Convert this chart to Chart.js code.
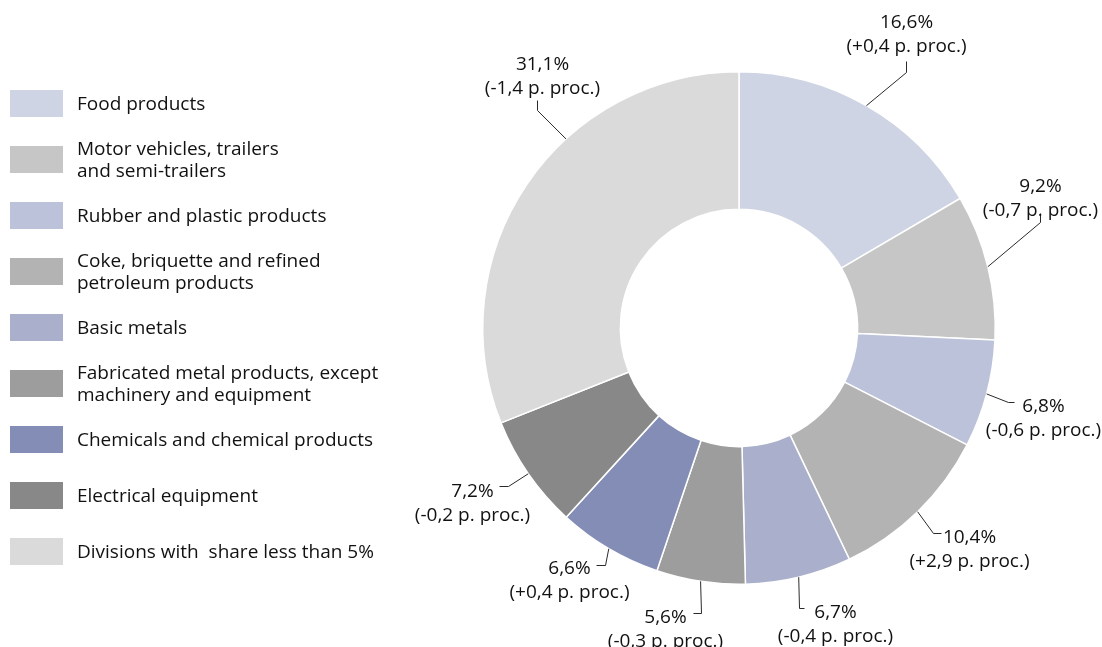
<!DOCTYPE html>
<html>
<head>
<meta charset="utf-8">
<title>Shares of manufacturing divisions</title>
<script src="https://cdn.jsdelivr.net/npm/chart.js@4.4.1/dist/chart.umd.min.js"></script>
<style>
  html, body { margin: 0; padding: 0; background: #fff; }
  #wrap { position: relative; width: 1102px; height: 647px; overflow: hidden; }
  #chart { position: absolute; left: 0; top: 0; }
  #legend { position: absolute; left: 10px; top: 75px; font-family: "Open Sans", sans-serif; font-size: 19px; color: #111; }
  .row { display: flex; align-items: center; height: 56px; }
  .swatch { width: 53px; height: 27px; margin-right: 14px; flex: none; }
  .txt { line-height: 22px; white-space: pre; }
</style>
</head>
<body>
<div id="wrap">
  <canvas id="chart" width="1102" height="647"></canvas>
  <div id="legend"></div>
</div>
<script>
// divisions, clockwise from 12 o'clock
const categories = [
  ['Food products'],
  ['Motor vehicles, trailers', 'and semi-trailers'],
  ['Rubber and plastic products'],
  ['Coke, briquette and refined', 'petroleum products'],
  ['Basic metals'],
  ['Fabricated metal products, except', 'machinery and equipment'],
  ['Chemicals and chemical products'],
  ['Electrical equipment'],
  ['Divisions with  share less than 5%']
];
// share in %, change vs previous year in percentage points
const shares  = [16.6, 9.2, 6.8, 10.4, 6.7, 5.6, 6.6, 7.2, 31.1];
const changes = [0.4, -0.7, -0.6, 2.9, -0.4, -0.3, 0.4, -0.2, -1.4];

const colors = ['#ced4e3', '#c6c6c6', '#bcc2d9', '#b3b3b3', '#aab0cb', '#9d9d9d', '#838db6', '#888888', '#dadada'];

// leader line shape per slice: start point on the rim (fraction of the arc),
// elbow offset, end offset, and text offset from the line end
const labelLayout = [
  { at: 0.5,  bend: [40, -34],  end: [0, -11], text: [0, -41] },
  { at: 0.5,  bend: [52, -45],  end: [0, -9],  text: [0, -29] },
  { at: 0.5,  bend: [21, 8],    end: [6, 0],   text: [29, 2] },
  { at: 0.5,  bend: [15, 21],   end: [8, 0],   text: [28, 2] },
  { at: 0.5,  bend: [0, 31],    end: [5, 0],   text: [31, 2] },
  { at: 0.5,  bend: [0, 32],    end: [-8, 0],  text: [-28, 2] },
  { at: 0.5,  bend: [-4, 16],   end: [-9, 0],  text: [-27, 1] },
  { at: 0.5,  bend: [-20, 12],  end: [-9, 0],  text: [-27, 3] },
  { at: 0.62, bend: [-29, -29], end: [0, -10], text: [5, -38] }
];

const FONT = '19px "Open Sans", sans-serif';
const LINE_GAP = 24;

function fmtShare(v) { return v.toFixed(1).replace('.', ',') + '%'; }
function fmtChange(v) { return '(' + (v > 0 ? '+' : '') + v.toFixed(1).replace('.', ',') + ' p. proc.)'; }

const leaderLabels = {
  id: 'leaderLabels',
  afterDatasetsDraw(chart) {
    const ctx = chart.ctx;
    const arcs = chart.getDatasetMeta(0).data;
    ctx.save();
    ctx.strokeStyle = '#2a2a2a';
    ctx.lineWidth = 1;
    ctx.fillStyle = '#111';
    ctx.font = FONT;
    ctx.textAlign = 'center';
    ctx.textBaseline = 'middle';
    arcs.forEach((arc, i) => {
      const p = arc.getProps(['x', 'y', 'startAngle', 'endAngle', 'outerRadius'], true);
      const l = labelLayout[i];
      const a = p.startAngle + (p.endAngle - p.startAngle) * l.at;
      const x0 = p.x + Math.cos(a) * p.outerRadius;
      const y0 = p.y + Math.sin(a) * p.outerRadius;
      const x1 = Math.round(x0 + l.bend[0]) + 0.5;
      const y1 = Math.round(y0 + l.bend[1]) + 0.5;
      const x2 = x1 + l.end[0];
      const y2 = y1 + l.end[1];
      ctx.beginPath();
      ctx.moveTo(x0, y0);
      ctx.lineTo(x1, y1);
      ctx.lineTo(x2, y2);
      ctx.stroke();
      // glyphs sit a little high with "middle", nudge down
      const tx = x2 + l.text[0];
      const ty = y2 + l.text[1] + 2;
      ctx.fillText(fmtShare(shares[i]), tx, ty);
      ctx.fillText(fmtChange(changes[i]), tx, ty + LINE_GAP);
    });
    ctx.restore();
  }
};

const chart = new Chart(document.getElementById('chart').getContext('2d'), {
  type: 'doughnut',
  data: {
    labels: categories,
    datasets: [{
      data: shares,
      backgroundColor: colors,
      borderColor: '#ffffff',
      borderWidth: 1.5,
      hoverOffset: 0
    }]
  },
  options: {
    responsive: false,
    animation: false,
    cutout: '46.3%',
    rotation: 0,
    layout: { padding: { left: 482, right: 106, top: 71, bottom: 62 } },
    plugins: {
      legend: { display: false },
      tooltip: { enabled: false }
    }
  },
  plugins: [leaderLabels]
});

// legend on the left
const legendEl = document.getElementById('legend');
categories.forEach((lines, i) => {
  const row = document.createElement('div');
  row.className = 'row';
  const sw = document.createElement('div');
  sw.className = 'swatch';
  sw.style.background = colors[i];
  const txt = document.createElement('div');
  txt.className = 'txt';
  txt.textContent = lines.join('\n');
  row.appendChild(sw);
  row.appendChild(txt);
  legendEl.appendChild(row);
});
</script>
</body>
</html>
